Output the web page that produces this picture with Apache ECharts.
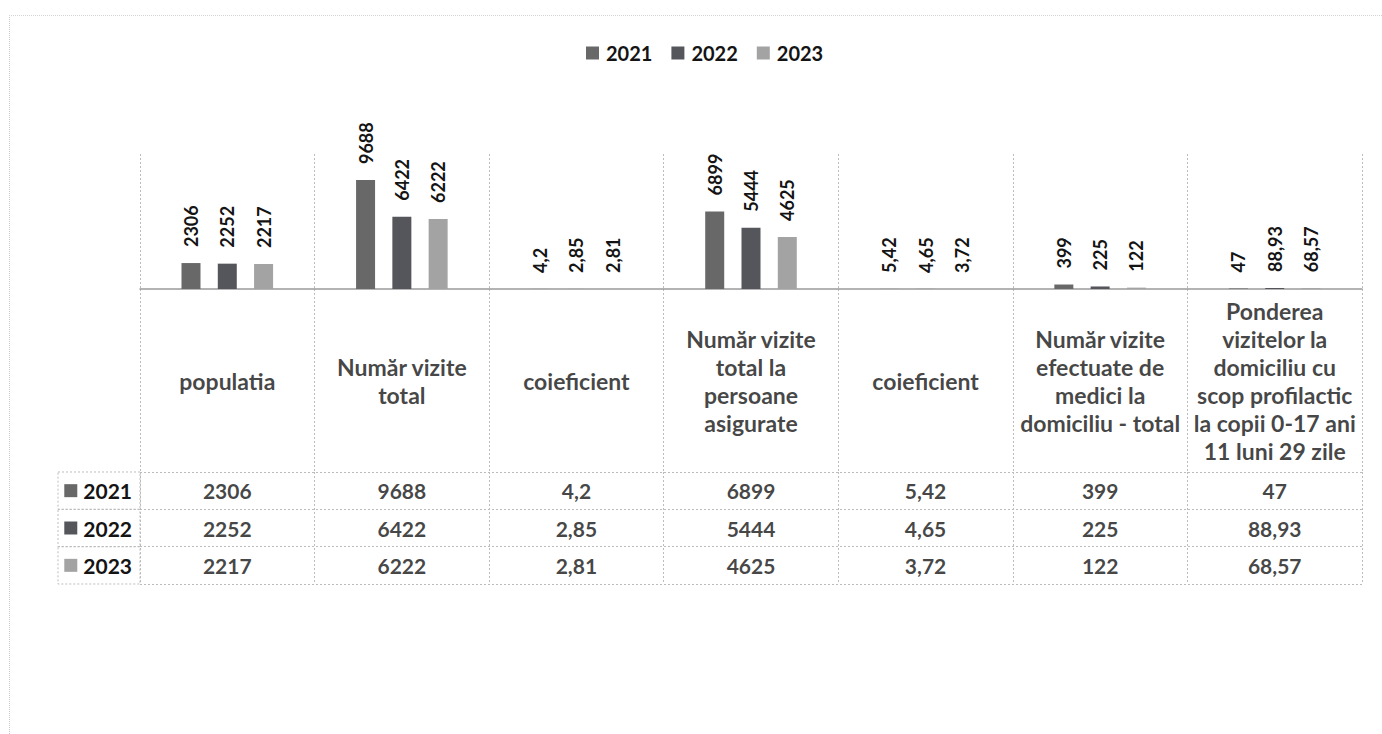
<!DOCTYPE html>
<html>
<head>
<meta charset="utf-8">
<title>Vizite</title>
<script src="https://cdn.jsdelivr.net/npm/echarts@6/dist/echarts.min.js"></script>
<style>
  html, body { margin: 0; padding: 0; background: #fff; }
  #frame { position: absolute; left: 9px; top: 15px; width: 1400px; height: 760px;
           border-left: 1px dotted #c8c8c8; border-top: 1px dotted #d4d4d4; }
  #main { position: absolute; left: 0; top: 0; width: 1382px; height: 734px; }
</style>
</head>
<body>
<div id="frame"></div>
<div id="main"></div>
<script>
// categorii (antetul tabelului)
var categories = [
    'populatia',
    'Număr vizite\ntotal',
    'coieficient',
    'Număr vizite\ntotal la\npersoane\nasigurate',
    'coieficient',
    'Număr vizite\nefectuate de\nmedici la\ndomiciliu - total',
    'Ponderea\nvizitelor la\ndomiciliu cu\nscop profilactic\nla copii 0-17 ani\n11 luni 29 zile'
];
var years = ['2021', '2022', '2023'];
var v2021 = [2306, 9688, 4.2, 6899, 5.42, 399, 47];
var v2022 = [2252, 6422, 2.85, 5444, 4.65, 225, 88.93];
var v2023 = [2217, 6222, 2.81, 4625, 3.72, 122, 68.57];
var values = [v2021, v2022, v2023];
var yearColors = ['#686868', '#55565c', '#a3a3a3'];

var font = 'Lato';
var textColor = '#141414';
var lineColor = '#bcbcbc';

// layout
var left = 140, right = 20;
var plotTop = 154, axisY = 289, headTop = 289, tableTop = 472, tableBottom = 584;
var rowH = (tableBottom - tableTop) / years.length;
var rowLabelLine = 22;
var rowPad = (rowH - rowLabelLine) / 2;

function fmt(v) { return String(v).replace('.', ','); }

var myChart = echarts.init(document.getElementById('main'), null, { renderer: 'svg' });

var dotted = { color: lineColor, width: 1, type: [2, 2] };

var series = years.map(function (y, i) {
    return {
        name: y,
        type: 'bar',
        xAxisIndex: 0,
        yAxisIndex: 0,
        data: values[i],
        barWidth: 19,
        barGap: '91%',
        itemStyle: { color: yearColors[i] },
        label: {
            show: true,
            position: 'top',
            rotate: 90,
            align: 'left',
            verticalAlign: 'middle',
            distance: 16,
            fontFamily: font,
            fontWeight: 'bold',
            fontSize: 18,
            color: textColor,
            formatter: function (p) { return fmt(p.value); }
        }
    };
});

// randul de antet
series.push({
    name: 'antet',
    type: 'scatter',
    xAxisIndex: 1,
    yAxisIndex: 1,
    symbolSize: 1,
    itemStyle: { color: 'rgba(0,0,0,0)' },
    data: categories.map(function (c, i) { return { name: c, value: [i, 0] }; }),
    label: {
        show: true,
        position: 'inside',
        formatter: '{b}',
        fontFamily: font,
        fontWeight: 'bold',
        fontSize: 23,
        lineHeight: 28,
        color: textColor,
        align: 'center',
        verticalAlign: 'middle'
    }
});

// celulele tabelului
var cells = [];
values.forEach(function (arr, r) {
    arr.forEach(function (v, c) { cells.push([c, r, v]); });
});
series.push({
    name: 'celule',
    type: 'scatter',
    xAxisIndex: 2,
    yAxisIndex: 2,
    symbolSize: 1,
    itemStyle: { color: 'rgba(0,0,0,0)' },
    data: cells,
    label: {
        show: true,
        position: 'inside',
        formatter: function (p) { return fmt(p.value[2]); },
        fontFamily: font,
        fontWeight: 'bold',
        fontSize: 21,
        color: textColor
    }
});

var rich = {
    t: { fontFamily: font, fontWeight: 'bold', fontSize: 21, lineHeight: rowLabelLine,
         color: textColor, padding: [0, 0, 0, 6] }
};
years.forEach(function (y, i) {
    rich['s' + i] = { width: 13, height: 13, backgroundColor: yearColors[i] };
});

var option = {
    backgroundColor: 'transparent',
    animation: false,
    legend: {
        data: years,
        top: 38,
        left: 581,
        icon: 'rect',
        itemWidth: 13,
        itemHeight: 13,
        itemGap: 19,
        textStyle: { fontFamily: font, fontWeight: 'bold', fontSize: 20, color: textColor, padding: [0, 0, 0, 2] }
    },
    grid: [
        { left: left, right: right, top: plotTop, height: axisY - plotTop },
        { left: left, right: right, top: headTop, height: tableTop - headTop },
        { left: left, right: right, top: tableTop, height: tableBottom - tableTop }
    ],
    xAxis: [
        {
            type: 'category', gridIndex: 0, data: categories,
            axisLine: { show: true, lineStyle: { color: '#9a9a9a', width: 1.5 } },
            axisTick: { show: false }, axisLabel: { show: false },
            splitLine: { show: true, lineStyle: dotted }
        },
        {
            type: 'category', gridIndex: 1, data: categories,
            axisLine: { show: false }, axisTick: { show: false }, axisLabel: { show: false },
            splitLine: { show: true, lineStyle: dotted }
        },
        {
            type: 'category', gridIndex: 2, data: categories,
            axisLine: { show: false }, axisTick: { show: false }, axisLabel: { show: false },
            splitLine: { show: true, lineStyle: dotted }
        }
    ],
    yAxis: [
        { type: 'value', gridIndex: 0, min: 0, max: 12000, show: false },
        {
            type: 'category', gridIndex: 1, data: ['antet'],
            axisLine: { show: false }, axisTick: { show: false }, axisLabel: { show: false },
            splitLine: { show: false }
        },
        {
            type: 'category', gridIndex: 2, data: years, inverse: true,
            axisLine: { show: false }, axisTick: { show: false },
            splitLine: { show: true, lineStyle: dotted },
            axisLabel: {
                interval: 0,
                hideOverlap: false,
                margin: 0,
                align: 'right',
                verticalAlign: 'middle',
                width: 74,
                padding: [rowPad, 8, rowPad, 0],
                borderColor: lineColor,
                borderWidth: 1,
                borderType: [2, 2],
                formatter: function (v, i) { return '{s' + i + '| }{t|' + v + '}'; },
                rich: rich
            }
        }
    ],
    series: series
};

myChart.setOption(option);
</script>
</body>
</html>
